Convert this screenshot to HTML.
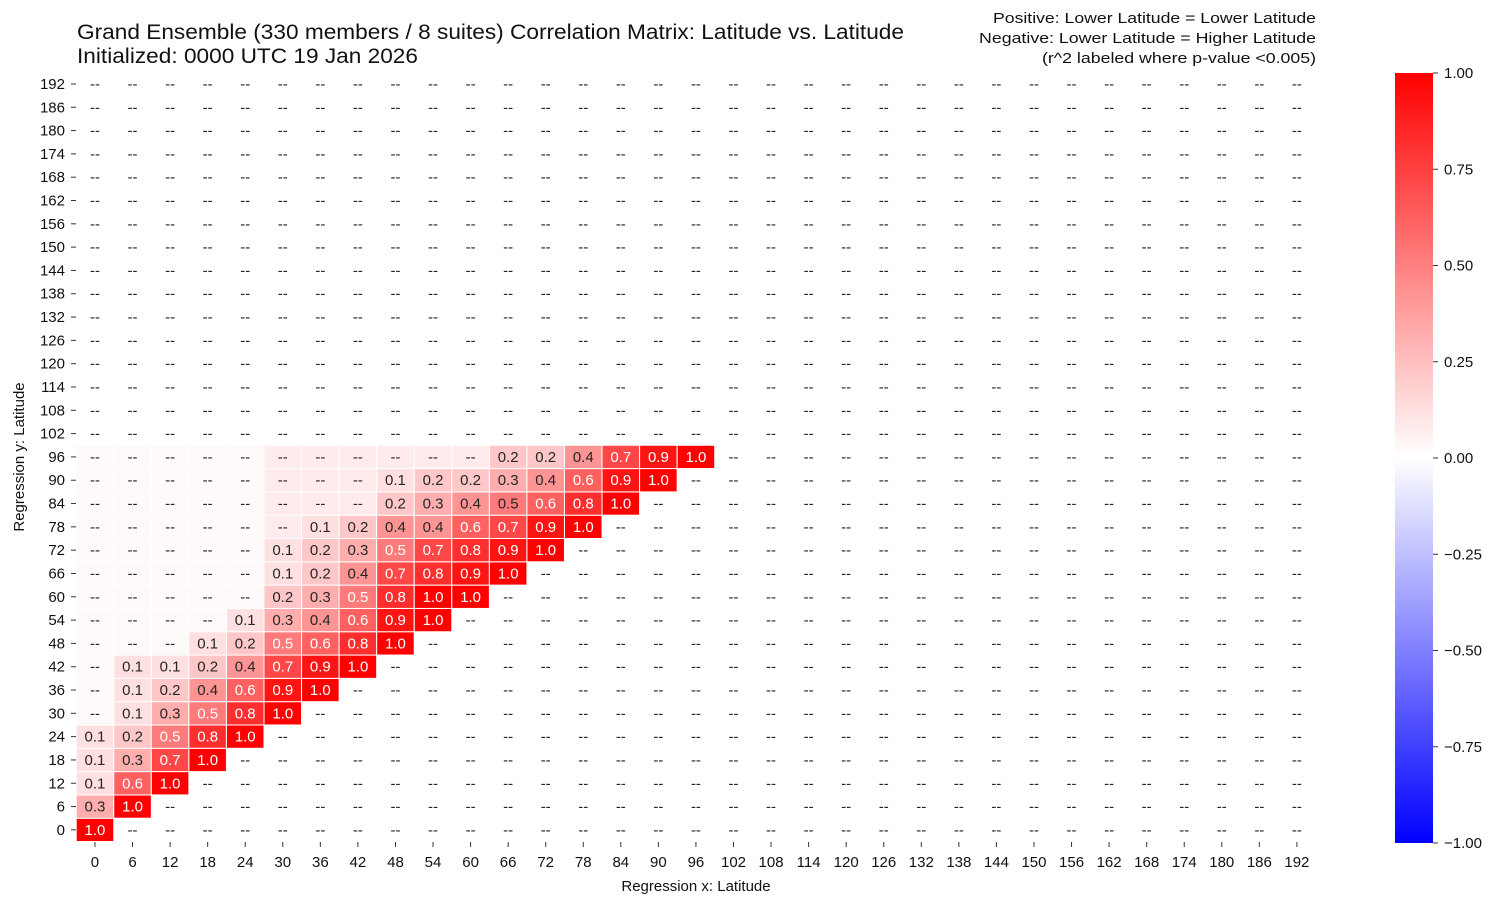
<!DOCTYPE html>
<html><head><meta charset="utf-8"><style>
body{margin:0;background:#fff}
svg text{font-family:"Liberation Sans","DejaVu Sans",sans-serif}
</style></head><body>
<svg id="s" width="1503" height="907" xmlns="http://www.w3.org/2000/svg">
<defs><linearGradient id="cb" x1="0" y1="1" x2="0" y2="0">
<stop offset="0" stop-color="#0000ff"/><stop offset="0.5" stop-color="#ffffff"/><stop offset="1" stop-color="#ff0000"/></linearGradient></defs>
<text x="77" y="39" font-size="21" fill="#111" textLength="827" lengthAdjust="spacingAndGlyphs">Grand Ensemble (330 members / 8 suites) Correlation Matrix: Latitude vs. Latitude</text>
<text x="77" y="63" font-size="21" fill="#111" textLength="341" lengthAdjust="spacingAndGlyphs">Initialized: 0000 UTC 19 Jan 2026</text>
<text x="993" y="23" font-size="15" fill="#111" textLength="323" lengthAdjust="spacingAndGlyphs">Positive: Lower Latitude = Lower Latitude</text>
<text x="979" y="43" font-size="15" fill="#111" textLength="337" lengthAdjust="spacingAndGlyphs">Negative: Lower Latitude = Higher Latitude</text>
<text x="1042" y="63" font-size="15" fill="#111" textLength="274" lengthAdjust="spacingAndGlyphs">(r^2 labeled where p-value &lt;0.005)</text>
<g id="cells"></g>
<text x="696" y="891" font-size="15" text-anchor="middle" fill="#111">Regression x: Latitude</text>
<text transform="translate(24,457) rotate(-90)" font-size="15" text-anchor="middle" fill="#111">Regression y: Latitude</text>
<rect x="1395" y="73" width="38" height="770" fill="url(#cb)"/>
<g id="cbt"></g>
</svg>
<script>
var L=76.2,T=72.3,W=37.56,H=23.31,N=33;
var rows=[
"1.0","0.3,1.0","0.1,0.6,1.0","0.1,0.3,0.7,1.0","0.1,0.2,0.5,0.8,1.0",
"-,0.1,0.3,0.5,0.8,1.0","-,0.1,0.2,0.4,0.6,0.9,1.0","-,0.1,0.1,0.2,0.4,0.7,0.9,1.0",
"-,-,-,0.1,0.2,0.5,0.6,0.8,1.0","-,-,-,-,0.1,0.3,0.4,0.6,0.9,1.0",
"-,-,-,-,-,0.2,0.3,0.5,0.8,1.0,1.0","-,-,-,-,-,0.1,0.2,0.4,0.7,0.8,0.9,1.0",
"-,-,-,-,-,0.1,0.2,0.3,0.5,0.7,0.8,0.9,1.0","-,-,-,-,-,-,0.1,0.2,0.4,0.4,0.6,0.7,0.9,1.0",
"-,-,-,-,-,-,-,-,0.2,0.3,0.4,0.5,0.6,0.8,1.0","-,-,-,-,-,-,-,-,0.1,0.2,0.2,0.3,0.4,0.6,0.9,1.0",
"-,-,-,-,-,-,-,-,-,-,-,0.2,0.2,0.4,0.7,0.9,1.0"];
var h='';
for(var j=0;j<N;j++){var y=T+(N-1-j)*H;var r=j<rows.length?rows[j].split(','):[];
for(var i=0;i<N;i++){var x=L+i*W;var lab='--',v=0;
if(i<r.length){if(r[i]=='-'){v=i>=5?0.08:0.02;}else{lab=r[i];v=parseFloat(r[i]);if(v<1)v=v+0.02;}}
var g=Math.round(255*(1-Math.min(v,1)));
if(v>0)h+='<rect x="'+x+'" y="'+y+'" width="'+W+'" height="'+H+'" fill="rgb(255,'+g+','+g+')" stroke="#fff" stroke-width="1"/>';
var tc=(lab!='--'&&parseFloat(lab)>=0.5&&!(j==14&&i==11))?'#fff':'#262626';
h+='<text x="'+(x+W/2)+'" y="'+(y+H/2+5)+'" font-size="15" text-anchor="middle" fill="'+tc+'">'+lab+'</text>';}}
for(var k=0;k<N;k++){var cx=L+k*W+W/2,cy=T+(N-1-k)*H+H/2;
h+='<line x1="'+cx+'" y1="842" x2="'+cx+'" y2="847" stroke="#333"/><text x="'+cx+'" y="867" font-size="15" text-anchor="middle" fill="#111">'+(k*6)+'</text>';
h+='<line x1="71" y1="'+cy+'" x2="76" y2="'+cy+'" stroke="#333"/><text x="65" y="'+(cy+5)+'" font-size="15" text-anchor="end" fill="#111">'+(k*6)+'</text>';}
document.getElementById('cells').innerHTML=h;
var c='';var tk=['1.00','0.75','0.50','0.25','0.00','\u22120.25','\u22120.50','\u22120.75','\u22121.00'];
for(var m=0;m<9;m++){var yy=73+m*770/8;c+='<line x1="1433" y1="'+yy+'" x2="1438" y2="'+yy+'" stroke="#333"/><text x="1444" y="'+(yy+5)+'" font-size="15" fill="#111">'+tk[m]+'</text>';}
document.getElementById('cbt').innerHTML=c;
</script>
</body></html>
